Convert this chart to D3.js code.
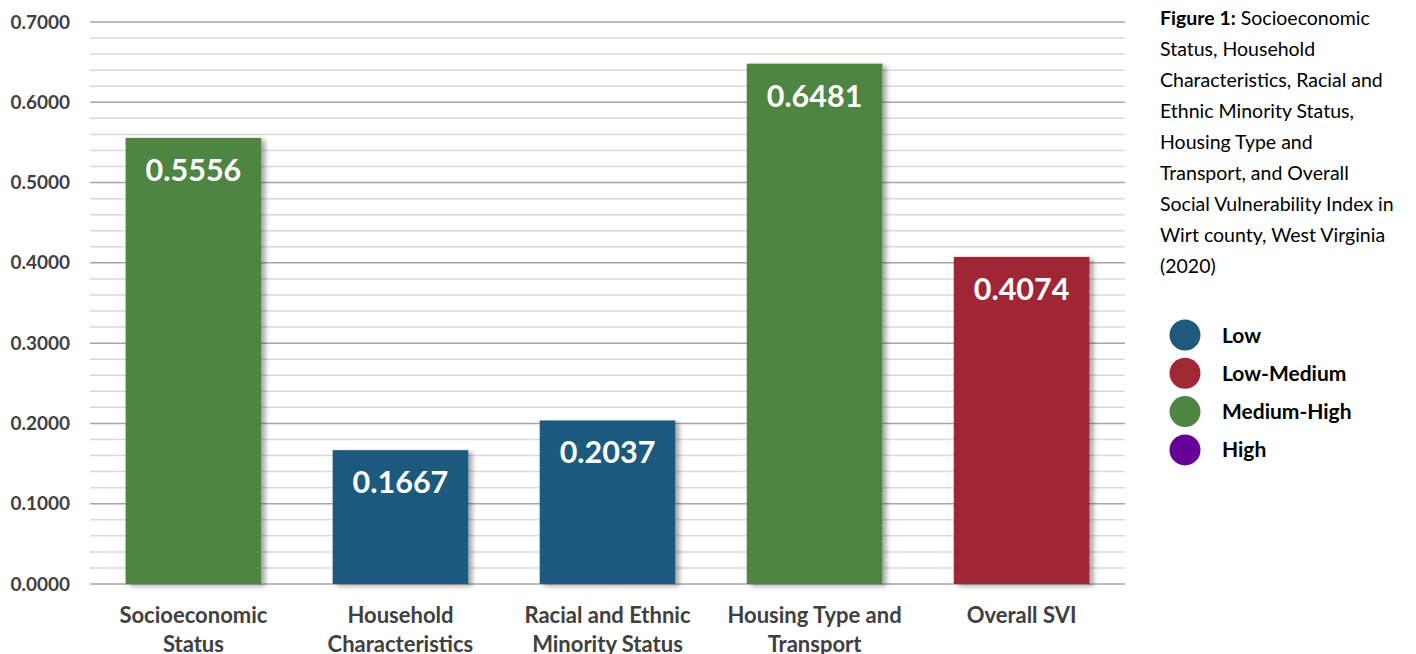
<!DOCTYPE html>
<html>
<head>
<meta charset="utf-8">
<script src="https://cdn.jsdelivr.net/npm/d3@7"></script>
<style>
  html, body { margin: 0; padding: 0; background: #fff; }
  svg { display: block; }
</style>
</head>
<body>
<svg id="chart" width="1416" height="654"></svg>
<script>
// SVI theme scores for Wirt County, WV (2020)
const categories = [
  ["Socioeconomic", "Status"],
  ["Household", "Characteristics"],
  ["Racial and Ethnic", "Minority Status"],
  ["Housing Type and", "Transport"],
  ["Overall SVI"]
];
const values = [0.5556, 0.1667, 0.2037, 0.6481, 0.4074];
const levels = ["Medium-High", "Low", "Low", "Medium-High", "Low-Medium"];

const legendLevels = ["Low", "Low-Medium", "Medium-High", "High"];
const levelColors = ["#1f5a7d", "#a12836", "#4f8542", "#660099"];

const majorTicks = [0, 0.1, 0.2, 0.3, 0.4, 0.5, 0.6, 0.7];
const minorTicks = d3.range(0, 0.7001, 0.02);

const captionLines = [
  [["Figure 1:", true], [" Socioeconomic", false]],
  [["Status, Household", false]],
  [["Characteristics, Racial and", false]],
  [["Ethnic Minority Status,", false]],
  [["Housing Type and", false]],
  [["Transport, and Overall", false]],
  [["Social Vulnerability Index in", false]],
  [["Wirt county, West Virginia", false]],
  [["(2020)", false]]
];

const svg = d3.select("#chart");
const font = "Lato, 'Open Sans', sans-serif";
const textColor = "#404040";

const plot = { left: 90, right: 1125, top: 22, bottom: 584 };

const x = d3.scaleBand()
  .domain(d3.range(categories.length))
  .range([plot.left, plot.right])
  .paddingInner(0.345)
  .paddingOuter(0.172);

const y = d3.scaleLinear().domain([0, 0.7]).range([plot.bottom, plot.top]);

const color = d3.scaleOrdinal().domain(legendLevels).range(levelColors);

// soft shadow behind bars
const defs = svg.append("defs");
const f = defs.append("filter").attr("id", "shadow")
  .attr("x", "-10%").attr("y", "-10%").attr("width", "130%").attr("height", "130%");
f.append("feDropShadow")
  .attr("dx", 4).attr("dy", 2).attr("stdDeviation", 2.5)
  .attr("flood-color", "#000").attr("flood-opacity", 0.35);

// minor grid
svg.append("g")
  .selectAll("line")
  .data(minorTicks.filter(t => !majorTicks.some(m => Math.abs(m - t) < 1e-6)))
  .join("line")
  .attr("x1", plot.left).attr("x2", plot.right)
  .attr("y1", d => y(d)).attr("y2", d => y(d))
  .attr("stroke", "#d9d9d9").attr("stroke-width", 1.5);

// major grid
svg.append("g")
  .selectAll("line")
  .data(majorTicks)
  .join("line")
  .attr("x1", plot.left).attr("x2", plot.right)
  .attr("y1", d => y(d)).attr("y2", d => y(d))
  .attr("stroke", "#a6a6a6").attr("stroke-width", 1.5);

// y axis labels
const yAxis = d3.axisLeft(y).tickValues(majorTicks).tickFormat(d3.format(".4f")).tickSize(0).tickPadding(20);
const yg = svg.append("g").attr("transform", `translate(${plot.left},0)`).call(yAxis);
yg.select(".domain").remove();
yg.selectAll("text")
  .attr("font-family", font).attr("font-weight", "bold")
  .attr("font-size", 19).attr("fill", textColor);

// bars
svg.append("g")
  .selectAll("rect")
  .data(values)
  .join("rect")
  .attr("x", (d, i) => x(i))
  .attr("y", d => y(d))
  .attr("width", x.bandwidth())
  .attr("height", d => y(0) - y(d))
  .attr("fill", (d, i) => color(levels[i]))
  .attr("filter", "url(#shadow)");

// value labels
svg.append("g")
  .selectAll("text")
  .data(values)
  .join("text")
  .attr("x", (d, i) => x(i) + x.bandwidth() / 2)
  .attr("y", d => y(d) + 43)
  .attr("text-anchor", "middle")
  .attr("font-family", font).attr("font-weight", "bold")
  .attr("font-size", 30.5).attr("fill", "#fff")
  .text(d => d3.format(".4f")(d));

// x axis category labels
const xg = svg.append("g");
categories.forEach((lines, i) => {
  const t = xg.append("text")
    .attr("x", x(i) + x.bandwidth() / 2)
    .attr("y", 623)
    .attr("text-anchor", "middle")
    .attr("font-family", font).attr("font-weight", "bold")
    .attr("font-size", 22).attr("fill", textColor);
  lines.forEach((l, j) => {
    t.append("tspan")
      .attr("x", x(i) + x.bandwidth() / 2)
      .attr("dy", j === 0 ? 0 : 29)
      .text(l);
  });
});

// caption
const cap = svg.append("g");
captionLines.forEach((parts, i) => {
  const t = cap.append("text")
    .attr("x", 1160).attr("y", 25 + i * 31)
    .attr("font-family", font).attr("font-size", 19.5).attr("fill", "#000");
  parts.forEach(([s, b]) => {
    t.append("tspan").attr("font-weight", b ? "bold" : "normal").text(s);
  });
});

// legend
const lg = svg.append("g");
legendLevels.forEach((lvl, i) => {
  const cy = 335 + i * 38.3;
  lg.append("circle").attr("cx", 1185).attr("cy", cy).attr("r", 15.5).attr("fill", color(lvl));
  lg.append("text").attr("x", 1222).attr("y", cy + 7.5)
    .attr("font-family", font).attr("font-weight", "bold")
    .attr("font-size", 21).attr("fill", "#000").text(lvl);
});
</script>
</body>
</html>
